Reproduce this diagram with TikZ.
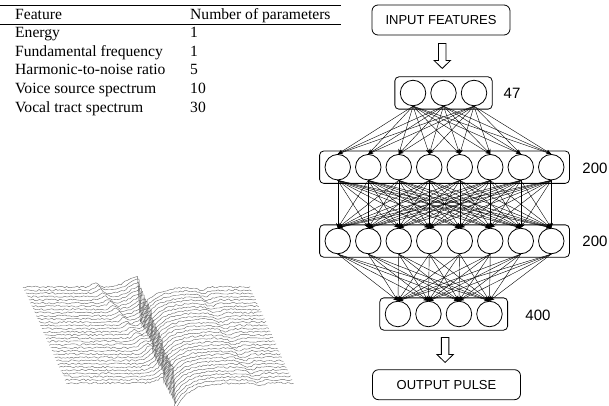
\documentclass[tikz,border=0pt]{standalone}
\usepackage{fontspec}
\setmainfont{Liberation Serif}
\setsansfont{Liberation Sans}
\usetikzlibrary{arrows.meta,positioning,calc,fit}

% hollow block arrow centred between two nodes
\newcommand{\hollowarrow}[2]{%
  \draw[hollow] ($(#1.south)!0.5!(#2.north)$) ++(-3.75,-12.5) -- ++(0,17) -- ++(-4.5,0)
    -- ++(8.25,8) -- ++(8.25,-8) -- ++(-4.5,0) -- ++(0,-17) -- cycle;}

\begin{document}
\begin{tikzpicture}[x=1pt,y=-1pt,
  tab/.style={anchor=base west,inner sep=0pt,font=\fontsize{15.6}{18.7}\selectfont},
  io/.style={draw,rounded corners=6pt,line width=0.8pt,minimum width=138pt,minimum height=30pt,font=\sffamily\fontsize{13}{15}\selectfont},
  unit/.style={draw,circle,line width=0.8pt,minimum size=25.5pt,inner sep=0pt},
  layer/.style={draw,rounded corners=4pt,line width=0.8pt,inner xsep=5pt,inner ysep=3pt},
  size/.style={font=\sffamily\fontsize{15}{17}\selectfont},
  arr/.style={-{Stealth[length=5pt,width=3.6pt]},line width=0.4pt},
  hollow/.style={draw,line width=0.8pt,fill=white,line join=miter},
  wave/.style={black!60,line width=0.4pt},
  declare function={pul(\p,\q)=(\p<\q) ? 11*exp(-((\p-\q)/15)^2) : -28*exp(-max(\p-\q,0)/13);}
]
\useasboundingbox (0,0) rectangle (609,406);

% Table
\draw[line width=0.9pt] (0,5.3) -- (341,5.3);
\draw[line width=0.9pt] (0,24.5) -- (341,24.5);
\node[tab] (hfeat) at (15,19.5) {Feature};
\node[tab] (hnum) at (190,19.5) {Number of parameters};
\node[tab] (f1) at (15,37.7) {Energy};
\node[tab] (f2) at (15,56.3) {Fundamental frequency};
\node[tab] (f3) at (15,74.9) {Harmonic-to-noise ratio};
\node[tab] (f4) at (15,93.5) {Voice source spectrum};
\node[tab] (f5) at (15,112.1) {Vocal tract spectrum};
\node[tab] (n1) at (190,37.7) {1};
\node[tab] (n2) at (190,56.3) {1};
\node[tab] (n3) at (190,74.9) {5};
\node[tab] (n4) at (190,93.5) {10};
\node[tab] (n5) at (190,112.1) {30};

% Network
\node[io] (input) at (441,20) {INPUT FEATURES};

\foreach \i in {1,2,3} \node[unit] (la\i) at ({443.5+(\i-2)*30.5},93) {};
\node[layer,fit=(la1)(la3)] (boxa) {};
\node[size] (sa) at (512,93) {47};

\foreach \i in {1,...,8} \node[unit] (lb\i) at ({444.5+(\i-4.5)*30.5},167.2) {};
\node[layer,fit=(lb1)(lb8)] (boxb) {};
\node[size] (sb) at (595,168) {200};

\foreach \i in {1,...,8} \node[unit] (lc\i) at ({444.5+(\i-4.5)*30.5},241) {};
\node[layer,fit=(lc1)(lc8)] (boxc) {};
\node[size] (sc) at (595,241.5) {200};

\foreach \i in {1,...,4} \node[unit] (ld\i) at ({443.7+(\i-2.5)*30.5},314) {};
\node[layer,fit=(ld1)(ld4)] (boxd) {};
\node[size] (sd) at (538,315) {400};

\node[io,minimum width=148pt] (output) at (446.5,384.7) {OUTPUT PULSE};

\hollowarrow{input}{boxa}
\hollowarrow{boxd}{output}

\foreach \i in {1,2,3} \foreach \j in {1,...,8} \draw[arr] (la\i.south) -- (lb\j.north);
\foreach \i in {1,...,8} \foreach \j in {1,...,8} \draw[arr] (lb\i.south) -- (lc\j.north);
\foreach \i in {1,...,8} \foreach \j in {1,...,4} \draw[arr] (lc\i.south) -- (ld\j.north);

% Pulse waterfall
\pgfmathsetseed{3}
\foreach \k in {0,...,30}{
  \pgfmathsetmacro\xs{23+1.45*\k}
  \pgfmathsetmacro\ys{287+3.2*\k}
  \pgfmathsetmacro\uc{115-0.23*\k}
  \pgfmathsetmacro\us{72+1.1*\k}
  \pgfmathsetmacro\ur{178+0.5*\k}
  \draw[wave] plot[domain=0:227,samples=110]
    ({\xs+\x},{\ys-pul(\x,\uc)-4*exp(-((\x-\us)/4)^2)+3*exp(-((\x-\ur)/6)^2)+0.9*rand});
}
\end{tikzpicture}
\end{document}
